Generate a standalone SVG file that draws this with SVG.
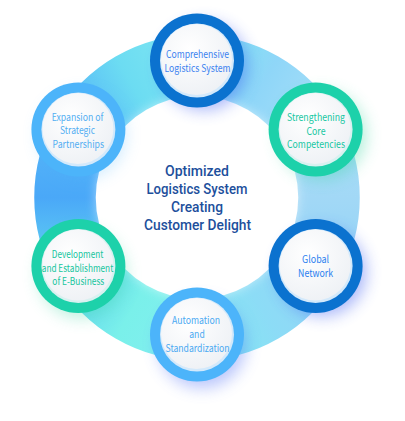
<svg xmlns="http://www.w3.org/2000/svg" width="405" height="421" viewBox="0 0 405 421">
<style>
.ring{fill:none;stroke-width:61.5}
.nt{font-family:"Noto Sans CJK KR","Noto Sans",sans-serif;font-size:10.5px;text-anchor:middle}
.title{font-family:Roboto,"Noto Sans",sans-serif;font-size:15px;font-weight:500;text-anchor:middle;fill:#1d4f9c}
.blue{fill:#0b72cf}.green{fill:#1dd1aa}.sky{fill:#4cb4fa}
</style>
<defs>
<filter id="glow" x="-60%" y="-60%" width="220%" height="220%"><feGaussianBlur stdDeviation="8"/></filter>
<filter id="soft" x="-30%" y="-30%" width="160%" height="160%"><feGaussianBlur stdDeviation="6"/></filter>
<radialGradient id="inner" cx="40%" cy="35%" r="70%"><stop offset="0" stop-color="#ffffff"/><stop offset="1" stop-color="#eef1f5"/></radialGradient>
<linearGradient id="g1" gradientUnits="userSpaceOnUse" x1="197" y1="65.5" x2="311.3" y2="131.5"><stop offset="0" stop-color="#7ee6f2"/><stop offset="0.5" stop-color="#8fd6f8"/><stop offset="1" stop-color="#a6def8"/></linearGradient>
<linearGradient id="g2" gradientUnits="userSpaceOnUse" x1="311.3" y1="131.5" x2="311.3" y2="263.5"><stop offset="0" stop-color="#a6def8"/><stop offset="0.5" stop-color="#a2d8f6"/><stop offset="1" stop-color="#94d4f6"/></linearGradient>
<linearGradient id="g3" gradientUnits="userSpaceOnUse" x1="311.3" y1="263.5" x2="197" y2="329.5"><stop offset="0" stop-color="#94d4f6"/><stop offset="0.5" stop-color="#8cdcf6"/><stop offset="1" stop-color="#82eaf0"/></linearGradient>
<linearGradient id="g4" gradientUnits="userSpaceOnUse" x1="197" y1="329.5" x2="82.7" y2="263.5"><stop offset="0" stop-color="#82eef0"/><stop offset="0.5" stop-color="#7af0ea"/><stop offset="1" stop-color="#62d2f2"/></linearGradient>
<linearGradient id="g5" gradientUnits="userSpaceOnUse" x1="82.7" y1="263.5" x2="82.7" y2="131.5"><stop offset="0" stop-color="#62d2f2"/><stop offset="0.5" stop-color="#4aa8f8"/><stop offset="1" stop-color="#56b6f8"/></linearGradient>
<linearGradient id="g6" gradientUnits="userSpaceOnUse" x1="82.7" y1="131.5" x2="197" y2="65.5"><stop offset="0" stop-color="#56b6f8"/><stop offset="0.5" stop-color="#6cdcf2"/><stop offset="1" stop-color="#7ee6f2"/></linearGradient>
</defs>
<rect width="405" height="421" fill="#ffffff"/>
<g id="connectors">
<path class="ring" stroke="url(#g1)" d="M197 65.5A132 132 0 0 1 311.32 131.5"/>
<path class="ring" stroke="url(#g2)" d="M311.32 131.5A132 132 0 0 1 311.32 263.5"/>
<path class="ring" stroke="url(#g3)" d="M311.32 263.5A132 132 0 0 1 197 329.5"/>
<path class="ring" stroke="url(#g4)" d="M197 329.5A132 132 0 0 1 82.68 263.5"/>
<path class="ring" stroke="url(#g5)" d="M82.68 263.5A132 132 0 0 1 82.68 131.5"/>
<path class="ring" stroke="url(#g6)" d="M82.68 131.5A132 132 0 0 1 197 65.5"/>
<circle cx="197" cy="197.5" r="100" fill="#ffffff" opacity="0.6" filter="url(#soft)"/>
</g>
<g id="glows">
<circle cx="204" cy="66" r="44" fill="#3d5cf2" opacity="0.45" filter="url(#glow)"/>
<circle cx="322" cy="135" r="44" fill="#3ed6a0" opacity="0.4" filter="url(#glow)"/>
<circle cx="322" cy="272" r="44" fill="#3d5cf2" opacity="0.45" filter="url(#glow)"/>
<circle cx="202" cy="344" r="44" fill="#4f6ef6" opacity="0.4" filter="url(#glow)"/>
<circle cx="82" cy="274" r="44" fill="#3ed6a0" opacity="0.35" filter="url(#glow)"/>
<circle cx="82" cy="135" r="44" fill="#4cb4fa" opacity="0.25" filter="url(#glow)"/>
</g>
<g id="title">
<text class="title" x="197" y="175.5" textLength="64" lengthAdjust="spacingAndGlyphs">Optimized</text>
<text class="title" x="197" y="193.8" textLength="101" lengthAdjust="spacingAndGlyphs">Logistics System</text>
<text class="title" x="197" y="212" textLength="52" lengthAdjust="spacingAndGlyphs">Creating</text>
<text class="title" x="197.5" y="230.3" textLength="107" lengthAdjust="spacingAndGlyphs">Customer Delight</text>
</g>
<g id="n1">
<circle class="blue" cx="197" cy="60.5" r="47"/>
<circle cx="197" cy="60.5" r="37" fill="#d3e9fb"/>
<circle cx="196.5" cy="59.5" r="35.5" fill="url(#inner)"/>
<text class="nt" fill="#3b82f0" x="197.5" y="58" textLength="63" lengthAdjust="spacingAndGlyphs">Comprehensive</text>
<text class="nt" fill="#3b82f0" x="197.5" y="72" textLength="66" lengthAdjust="spacingAndGlyphs">Logistics System</text>
</g>
<g id="n2">
<circle class="green" cx="315.6" cy="129.5" r="47"/>
<circle cx="315.6" cy="129.5" r="37" fill="#d8f1f0"/>
<circle cx="315.1" cy="128.5" r="35.5" fill="url(#inner)"/>
<text class="nt" fill="#17c7a2" x="316" y="121" textLength="58" lengthAdjust="spacingAndGlyphs">Strengthening</text>
<text class="nt" fill="#17c7a2" x="316" y="134.5" textLength="19" lengthAdjust="spacingAndGlyphs">Core</text>
<text class="nt" fill="#17c7a2" x="316" y="148" textLength="58" lengthAdjust="spacingAndGlyphs">Competencies</text>
</g>
<g id="n3">
<circle class="blue" cx="315.6" cy="266" r="47"/>
<circle cx="315.6" cy="266" r="37" fill="#d3e9fb"/>
<circle cx="315.1" cy="265" r="35.5" fill="url(#inner)"/>
<text class="nt" fill="#2b7ff0" x="315.6" y="263" textLength="27" lengthAdjust="spacingAndGlyphs">Global</text>
<text class="nt" fill="#2b7ff0" x="315.6" y="277" textLength="35" lengthAdjust="spacingAndGlyphs">Network</text>
</g>
<g id="n4">
<circle class="sky" cx="197" cy="334.5" r="47"/>
<circle cx="197" cy="334.5" r="37" fill="#d3e9fb"/>
<circle cx="196.5" cy="333.5" r="35.5" fill="url(#inner)"/>
<text class="nt" fill="#4aa9f2" x="196" y="324" textLength="48" lengthAdjust="spacingAndGlyphs">Automation</text>
<text class="nt" fill="#4aa9f2" x="197" y="338" textLength="15.5" lengthAdjust="spacingAndGlyphs">and</text>
<text class="nt" fill="#4aa9f2" x="197.5" y="351.5" textLength="64" lengthAdjust="spacingAndGlyphs">Standardization</text>
</g>
<g id="n5">
<circle class="green" cx="78.4" cy="266" r="47"/>
<circle cx="78.4" cy="266" r="37" fill="#d8f1f0"/>
<circle cx="77.9" cy="265" r="35.5" fill="url(#inner)"/>
<text class="nt" fill="#15c59d" x="77.5" y="258" textLength="51.5" lengthAdjust="spacingAndGlyphs">Development</text>
<text class="nt" fill="#15c59d" x="77.5" y="271.5" textLength="71.5" lengthAdjust="spacingAndGlyphs">and Establishment</text>
<text class="nt" fill="#15c59d" x="78.3" y="285" textLength="52" lengthAdjust="spacingAndGlyphs">of E-Business</text>
</g>
<g id="n6">
<circle class="sky" cx="78.4" cy="129.5" r="47"/>
<circle cx="78.4" cy="129.5" r="37" fill="#d3e9fb"/>
<circle cx="77.9" cy="128.5" r="35.5" fill="url(#inner)"/>
<text class="nt" fill="#52aef2" x="77.5" y="120.5" textLength="51.5" lengthAdjust="spacingAndGlyphs">Expansion of</text>
<text class="nt" fill="#52aef2" x="77.5" y="134" textLength="35" lengthAdjust="spacingAndGlyphs">Strategic</text>
<text class="nt" fill="#52aef2" x="78.3" y="147.5" textLength="51.5" lengthAdjust="spacingAndGlyphs">Partnerships</text>
</g>
</svg>
